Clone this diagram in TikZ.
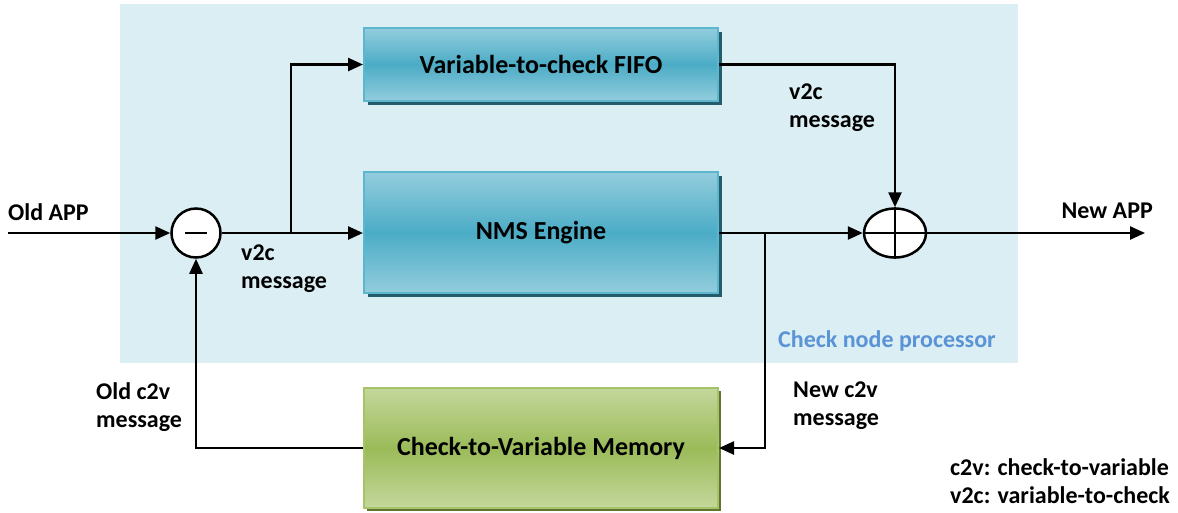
\documentclass[tikz,border=0pt]{standalone}
\usepackage{fontspec}
\setmainfont{Carlito}
\usetikzlibrary{arrows.meta,shapes.geometric,shadows}
\definecolor{bgblue}{HTML}{DBEEF4}
\definecolor{blight}{HTML}{93CDDD}
\definecolor{bdark}{HTML}{4BACC6}
\definecolor{bborder}{HTML}{5BB6CE}
\definecolor{bshadow}{HTML}{235D6C}
\definecolor{glight}{HTML}{C4D79B}
\definecolor{gdark}{HTML}{9BBB59}
\definecolor{gborder}{HTML}{A6C36A}
\definecolor{gshadow}{HTML}{5E7530}
\definecolor{cnp}{HTML}{5B93D7}
\tikzset{
  bluebox/.style={draw=bborder, line width=2pt, top color=blight, bottom color=blight, middle color=bdark,
    minimum width=354pt, font=\fontsize{26}{30}\selectfont\bfseries,
    drop shadow={shadow xshift=4pt, shadow yshift=-4pt, fill=bshadow, opacity=1}},
  greenbox/.style={draw=gborder, line width=2pt, top color=glight, bottom color=glight, middle color=gdark,
    minimum width=354pt, font=\fontsize{26}{30}\selectfont\bfseries,
    drop shadow={shadow xshift=3pt, shadow yshift=-3pt, fill=gshadow, opacity=1}},
  sumnode/.style={draw, line width=2.5pt, fill=white, inner sep=0pt},
  wire/.style={line width=2.5pt},
  arr/.style={wire, -{Triangle[length=15pt,width=13pt]}},
  lbl/.style={align=left, anchor=west, inner sep=0pt, font=\fontsize{24}{28}\selectfont\bfseries}
}
\begin{document}
\begin{tikzpicture}[x=1pt,y=-1pt]
\useasboundingbox (0,0) rectangle (1178,512);
\fill[bgblue] (120,4) rectangle (1018,363);

\node[bluebox, minimum height=73pt] (fifo) at (541,64.5) {Variable-to-check FIFO};
\node[bluebox, minimum height=121pt] (nms) at (541,232.5) {NMS Engine};
\node[greenbox, minimum height=120pt] (mem) at (541,448) {Check-to-Variable Memory};

\node[sumnode, circle, minimum size=49pt] (minus) at (196,233) {};
\draw[line width=2.5pt] ([xshift=-11pt]minus.center) -- ([xshift=11pt]minus.center);
\node[sumnode, ellipse, minimum width=62pt, minimum height=49pt] (plus) at (895,233) {};
\draw[line width=2.5pt] (plus.north) -- (plus.south) (plus.west) -- (plus.east);

\coordinate (oldin) at (8,233);
\coordinate (newout) at (1145,233);
\coordinate (s1) at (291,233);
\coordinate (s2) at (765,233);

\draw[arr] (oldin) -- (minus.west);
\draw[arr] (minus.east) -- (minus.east -| nms.west);
\draw[arr] (s1) |- (fifo.west);
\draw[arr] (fifo.east) -| (plus.north);
\draw[arr] (plus.west -| nms.east) -- (plus.west);
\draw[arr] (s2) |- (mem.east);
\draw[arr] (mem.west) -| (minus.south);
\draw[arr] (plus.east) -- (newout);

\node[lbl, anchor=base west] (loldapp) at (8,220) {Old APP};
\node[lbl, anchor=base east] (lnewapp) at (1153,218) {New APP};
\node[lbl] (lv2ctop) at (789,108) {v2c\\message};
\node[lbl] (lv2cbot) at (241,269) {v2c\\message};
\node[lbl] (loldc2v) at (96,407) {Old c2v\\message};
\node[lbl] (lnewc2v) at (793,406) {New c2v\\message};
\node[lbl, text=cnp] (lcnp) at (778,341) {Check node processor};
\node[lbl] (legend) at (950,481) {c2v: check-to-variable\\v2c: variable-to-check};
\end{tikzpicture}
\end{document}
